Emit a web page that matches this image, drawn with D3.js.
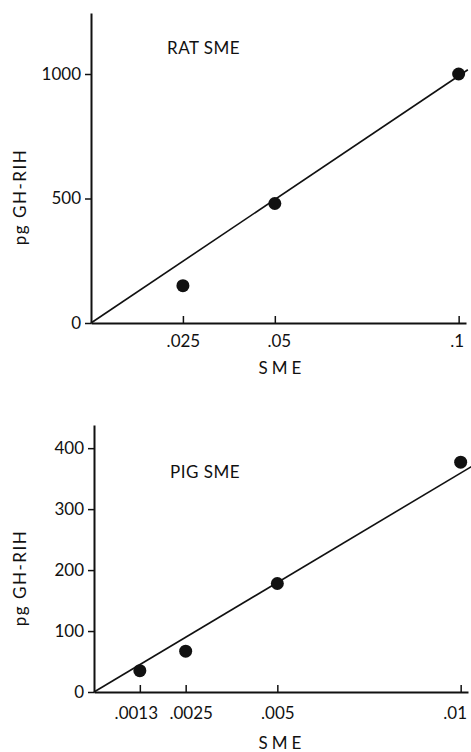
<!DOCTYPE html>
<html>
<head>
<meta charset="utf-8">
<script src="https://cdn.jsdelivr.net/npm/d3@7"></script>
<style>
  body { margin: 0; background: #fff; }
  svg text { font-family: Lato, "DejaVu Sans", sans-serif; fill: #111; }
</style>
</head>
<body>
<div id="chart"></div>
<script>
// Rat SME panel
const ratDose = [0.025, 0.05, 0.1];
const ratGH = [150, 480, 1000];
const ratTicksX = [0.025, 0.05, 0.1];
const ratTickLabelsX = ['.025', '.05', '.1'];
const ratTicksY = [0, 500, 1000];
const ratFitX = [0, 0.1025];
const ratFitY = [0, 1017];

// Pig SME panel
const pigDose = [0.00125, 0.0025, 0.005, 0.01];
const pigGH = [35, 67, 178, 377];
const pigTicksX = [0.00125, 0.0025, 0.005, 0.01];
const pigTickLabelsX = ['.0013', '.0025', '.005', '.01'];
const pigTicksY = [0, 100, 200, 300, 400];
const pigFitX = [0, 0.0103];
const pigFitY = [0, 370];

const width = 471, height = 752;
const fontSize = '17px';

const svg = d3.select('#chart')
  .append('svg')
  .attr('width', width)
  .attr('height', height);

function drawPanel(p) {
  const g = svg.append('g');

  const x = d3.scaleLinear().domain([0, p.xMax]).range([p.left, p.right]);
  const y = d3.scaleLinear().domain([0, p.yMax]).range([p.bottom, p.top]);

  // x axis, ticks pointing up into the plot
  const xAxis = g.append('g')
    .attr('transform', `translate(0,${p.bottom})`)
    .call(d3.axisBottom(x)
      .tickValues(p.ticksX)
      .tickFormat((d, i) => p.labelsX[i])
      .tickSizeInner(-7)
      .tickSizeOuter(0)
      .tickPadding(p.xPad));

  // nudge crowded labels apart like the printed figure
  xAxis.selectAll('.tick text').attr('dx', (d, i) => p.labelNudge[i]);

  // y axis, ticks pointing left
  const yAxis = g.append('g')
    .attr('transform', `translate(${p.left},0)`)
    .call(d3.axisLeft(y)
      .tickValues(p.ticksY)
      .tickFormat(d3.format('d'))
      .tickSize(6)
      .tickSizeOuter(0)
      .tickPadding(4));

  [xAxis, yAxis].forEach(a => {
    a.select('.domain').attr('stroke', '#111').attr('stroke-width', 2);
    a.selectAll('.tick line').attr('stroke', '#111').attr('stroke-width', 1.5);
    a.selectAll('.tick text').style('font-size', fontSize).style('fill', '#111');
  });

  // fitted line
  const line = d3.line().x(d => x(d[0])).y(d => y(d[1]));
  g.append('path')
    .datum(d3.zip(p.fitX, p.fitY))
    .attr('d', line)
    .attr('fill', 'none')
    .attr('stroke', '#111')
    .attr('stroke-width', 1.6);

  // points
  g.selectAll('circle')
    .data(d3.zip(p.dose, p.gh))
    .join('circle')
    .attr('cx', d => x(d[0]))
    .attr('cy', d => y(d[1]))
    .attr('r', 6.5)
    .attr('fill', '#111');

  // panel title
  g.append('text')
    .attr('x', p.titleX)
    .attr('y', p.titleY)
    .style('font-size', fontSize)
    .style('letter-spacing', '0.5px')
    .text(p.title);

  // axis titles
  g.append('text')
    .attr('x', 282)
    .attr('y', p.bottom + p.xTitleOff)
    .attr('text-anchor', 'middle')
    .style('font-size', fontSize)
    .style('letter-spacing', '4px')
    .text('SME');

  g.append('text')
    .attr('transform', `translate(26,${p.yTitleY}) rotate(-90)`)
    .attr('text-anchor', 'middle')
    .style('font-size', fontSize)
    .style('letter-spacing', '1.5px')
    .text('pg  GH-RIH');
}

drawPanel({
  dose: ratDose, gh: ratGH, fitX: ratFitX, fitY: ratFitY,
  ticksX: ratTicksX, labelsX: ratTickLabelsX, ticksY: ratTicksY,
  labelNudge: [0, 4, -2],
  xMax: 0.102, yMax: 1245,
  left: 91, right: 466, top: 13, bottom: 323,
  xPad: 12, xTitleOff: 51, yTitleY: 197,
  title: 'RAT SME', titleX: 167, titleY: 54
});

drawPanel({
  dose: pigDose, gh: pigGH, fitX: pigFitX, fitY: pigFitY,
  ticksX: pigTicksX, labelsX: pigTickLabelsX, ticksY: pigTicksY,
  labelNudge: [-4, 5, 0, -6],
  xMax: 0.0102, yMax: 438,
  left: 94, right: 468, top: 425, bottom: 692,
  xPad: 15, xTitleOff: 57, yTitleY: 578,
  title: 'PIG SME', titleX: 170, titleY: 478
});
</script>
</body>
</html>
